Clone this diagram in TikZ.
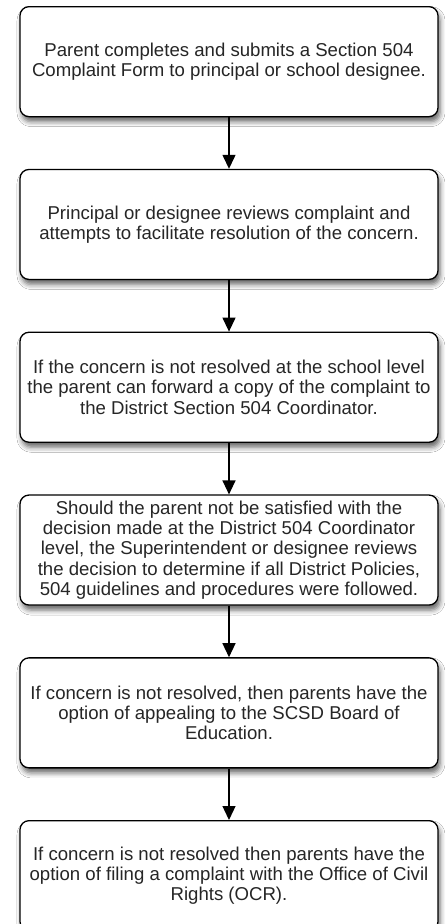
\documentclass[tikz,border=0pt]{standalone}
\usepackage{fontspec}
\setmainfont{Liberation Sans}
\usetikzlibrary{positioning,arrows.meta,shadows.blur}

\begin{document}
\begin{tikzpicture}[x=1pt,y=1pt,
    node distance=51.5pt,
    stepbox/.style={draw, % General options for all boxes
      line width=1.3pt,
      align=center,
      rounded corners=9pt,
      fill=white,
      text=black!85,
      font=\fontsize{18.6}{20.4}\selectfont,
      blur shadow={shadow xshift=2pt, shadow yshift=-5pt, shadow blur radius=5pt, shadow opacity=60},
      minimum width=418pt, minimum height=110pt},
    flow/.style={line width=1.3pt, -{Triangle[length=14pt,width=13pt]}}]
\useasboundingbox[fill=white] (0,0) rectangle (445,-924);
% First box: the parent files the form
\node[stepbox, anchor=north] (submit) at (229,-6)
  {Parent completes and submits a Section 504\\ Complaint Form to principal or school designee.};
\node[stepbox, below=of submit] (review)
  {Principal or designee reviews complaint and\\ attempts to facilitate resolution of the concern.};
\node[stepbox, below=of review] (forward)
  {If the concern is not resolved at the school level\\ the parent can forward a copy of the complaint to\\ the District Section 504 Coordinator.};
\node[stepbox, below=of forward] (superint)
  {Should the parent not be satisfied with the\\ decision made at the District 504 Coordinator\\ level, the Superintendent or designee reviews\\ the decision to determine if all District Policies,\\ 504 guidelines and procedures were followed.};
\node[stepbox, below=of superint] (board)
  {If concern is not resolved, then parents have the\\ option of appealing to the SCSD Board of\\ Education.};
% Last box: complaint to the OCR
\node[stepbox, below=of board] (ocr)
  {If concern is not resolved then parents have the\\ option of filing a complaint with the Office of Civil\\ Rights (OCR).};
% Arrows between the steps
\draw[flow] (submit) -- (review);
\draw[flow] (review) -- (forward);
\draw[flow] (forward) -- (superint);
\draw[flow] (superint) -- (board);
\draw[flow] (board) -- (ocr);
\end{tikzpicture}
\end{document}
